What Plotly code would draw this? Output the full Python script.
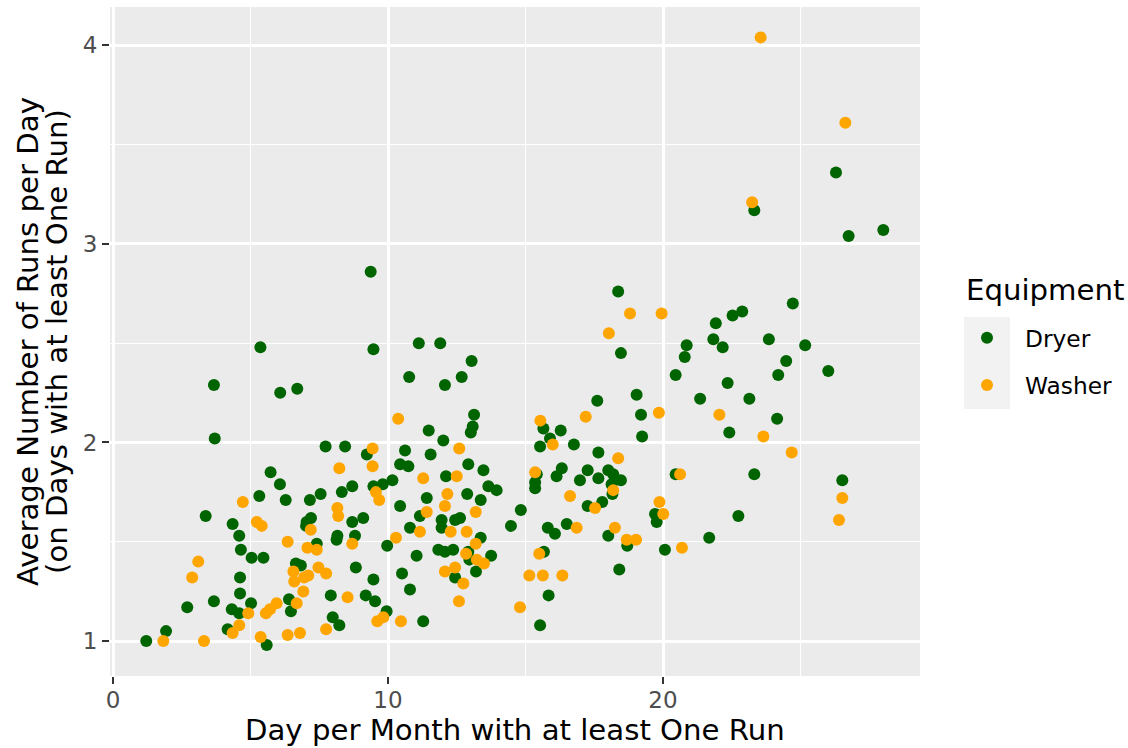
import plotly.graph_objects as go

# ---- data ----
dryer_days = [
    1.21, 1.93, 2.70, 3.37, 3.67, 3.70, 3.67, 4.17, 4.32, 4.59,
    4.35, 4.59, 4.65, 4.62, 4.62, 5.04, 5.47, 5.02, 5.36, 5.32,
    5.59, 5.73, 6.07, 6.28, 6.08, 6.70, 6.40, 6.47, 6.65, 6.83,
    7.04, 7.20, 7.02, 7.16, 7.55, 7.41, 7.73, 8.44, 7.92, 7.99,
    8.23, 8.32, 8.70, 8.16, 8.13, 8.70, 9.10, 8.80, 8.83, 9.23,
    9.47, 9.47, 9.19, 9.53, 9.37, 9.47, 9.81, 10.16, 9.97, 9.95,
    10.62, 10.44, 10.74, 10.44, 10.51, 10.80, 10.77, 11.12, 11.90, 10.80,
    11.04, 11.28, 11.16, 11.41, 11.48, 11.55, 12.01, 12.07, 12.11, 11.95,
    11.95, 11.83, 12.07, 12.37, 12.44, 12.62, 12.44, 12.68, 13.04, 13.13,
    13.08, 13.01, 12.92, 12.88, 13.37, 13.47, 13.65, 13.95, 13.37, 12.92,
    12.96, 13.75, 13.20, 14.47, 14.83, 15.41, 15.35, 15.35, 15.53, 15.89, 15.65,
    16.28, 16.76, 15.67, 15.81, 16.07, 16.50, 15.84, 15.53, 16.32, 16.13,
    16.98, 17.26, 17.65, 17.65, 17.61, 17.26, 17.79, 18.01, 18.19, 18.47,
    18.13, 18.16, 18.01, 18.41, 18.70, 18.37, 18.47, 19.04, 19.20, 19.24,
    19.71, 19.77, 20.07, 20.46, 20.46, 20.79, 20.86, 21.35, 21.68, 21.83,
    21.92, 22.17, 22.35, 22.41, 22.53, 22.88, 22.74, 23.14, 23.32, 23.32,
    23.85, 24.15, 24.19, 24.48, 24.72, 25.17, 26.01, 26.29, 26.52, 26.75, 28.01,
]
dryer_runs = [
    1.00, 1.05, 1.17, 1.63, 2.29, 2.02, 1.20, 1.06, 1.16, 1.14,
    1.59, 1.53, 1.46, 1.32, 1.24, 1.42, 1.42, 1.19, 2.48, 1.73,
    0.98, 1.85, 1.79, 1.71, 2.25, 2.27, 1.21, 1.15, 1.39, 1.38,
    1.60, 1.62, 1.58, 1.71, 1.74, 1.49, 1.98, 1.98, 1.23, 1.12,
    1.08, 1.75, 1.78, 1.53, 1.51, 1.60, 1.62, 1.53, 1.37, 1.94,
    1.78, 1.31, 1.23, 1.20, 2.86, 2.47, 1.79, 1.81, 1.48, 1.15,
    1.96, 1.89, 1.88, 1.68, 1.34, 1.26, 2.33, 2.50, 2.50, 1.57,
    1.43, 1.10, 1.63, 1.72, 2.06, 1.94, 2.01, 2.29, 1.83, 1.61,
    1.57, 1.46, 1.45, 1.46, 1.61, 1.62, 1.32, 2.33, 2.41, 2.14,
    2.08, 2.05, 1.89, 1.74, 1.71, 1.86, 1.78, 1.76, 1.52, 1.45,
    1.41, 1.43, 1.35, 1.58, 1.66, 1.84, 1.80, 1.77, 1.98, 2.02, 2.07,
    2.06, 1.99, 1.45, 1.57, 1.54, 1.59, 1.23, 1.08, 1.87, 1.83,
    1.81, 1.86, 1.82, 1.95, 2.21, 1.68, 1.70, 1.86, 1.84, 1.81,
    1.79, 1.74, 1.53, 1.36, 1.48, 2.76, 2.45, 2.24, 2.14, 2.03,
    1.64, 1.60, 1.46, 1.84, 2.34, 2.43, 2.49, 2.22, 1.52, 2.52,
    2.60, 2.48, 2.30, 2.05, 2.64, 2.66, 1.63, 2.22, 1.84, 3.17,
    2.52, 2.12, 2.34, 2.41, 2.70, 2.49, 2.36, 3.36, 1.81, 3.04, 3.07,
]
washer_days = [
    1.83, 2.88, 3.10, 3.31, 4.35, 4.59, 4.72, 4.92, 5.23, 5.41,
    5.37, 5.56, 5.71, 5.95, 6.35, 6.35, 6.80, 6.56, 6.59, 6.68,
    6.92, 6.95, 7.10, 7.07, 7.41, 7.19, 7.47, 7.75, 7.75, 8.16,
    8.19, 8.23, 8.53, 8.70, 9.44, 9.44, 9.56, 9.68, 9.61, 9.83,
    10.29, 10.37, 10.47, 11.28, 11.41, 11.16, 12.07, 12.16, 12.28, 12.07,
    12.44, 12.50, 12.59, 12.58, 12.74, 12.86, 12.84, 13.19, 13.19, 13.23,
    13.49, 14.80, 15.14, 15.35, 15.50, 15.54, 15.63, 15.99, 16.34, 16.62,
    16.86, 17.19, 17.53, 18.19, 18.03, 18.25, 18.37, 18.68, 19.02, 18.80,
    19.95, 19.85, 19.87, 20.01, 20.62, 20.69, 22.05, 23.24, 23.55, 23.65,
    24.68, 26.40, 26.52, 26.63,
]
washer_runs = [
    1.00, 1.32, 1.40, 1.00, 1.04, 1.08, 1.70, 1.14, 1.60, 1.58,
    1.02, 1.14, 1.16, 1.19, 1.50, 1.03, 1.04, 1.35, 1.30, 1.19,
    1.25, 1.32, 1.33, 1.47, 1.46, 1.56, 1.37, 1.34, 1.06, 1.67,
    1.63, 1.87, 1.22, 1.49, 1.97, 1.88, 1.75, 1.71, 1.10, 1.12,
    1.52, 2.12, 1.10, 1.82, 1.65, 1.55, 1.68, 1.74, 1.55, 1.35,
    1.37, 1.83, 1.97, 1.20, 1.29, 1.55, 1.44, 1.65, 1.49, 1.41,
    1.39, 1.17, 1.33, 1.85, 1.44, 2.11, 1.33, 1.99, 1.33, 1.73,
    1.57, 2.13, 1.67, 1.76, 2.55, 1.57, 1.92, 1.51, 1.51, 2.65,
    2.65, 2.15, 1.70, 1.64, 1.84, 1.47, 2.14, 3.21, 4.04, 2.03,
    1.95, 1.61, 1.72, 3.61,
]
x_ticks = [0, 10, 20]
y_ticks = [1, 2, 3, 4]
x_title = "Day per Month with at least One Run"
y_title_1 = "Average Number of Runs per Day"
y_title_2 = "(on Days with at least One Run)"
legend_title = "Equipment"

assert len(dryer_days) == len(dryer_runs)
assert len(washer_days) == len(washer_runs)

# ---- layout geometry (pixels) ----
W, H = 1128, 748
L, R, T, B = 110, 920, 7, 676   # panel edges
pw, ph = R - L, B - T


def px_x(p):
    return (p - L) / pw


def px_y(p):
    return (B - p) / ph


FONT = "DejaVu Sans"
TITLE_SIZE = 29.2
fig = go.Figure()
fig.add_trace(go.Scatter(
    x=dryer_days, y=dryer_runs, mode="markers", name="Dryer",
    legendgroup="d",
    marker=dict(color="#006400", size=12, line=dict(width=0)),
))
fig.add_trace(go.Scatter(
    x=washer_days, y=washer_runs, mode="markers", name="Washer",
    legendgroup="w",
    marker=dict(color="#FFA500", size=12, line=dict(width=0)),
))

axis_common = dict(
    ticks="outside", ticklen=7, tickwidth=2, tickcolor="#333333",
    tickfont=dict(family=FONT, size=23, color="#4D4D4D"),
    showgrid=True, gridcolor="white", gridwidth=2.5,
    zeroline=False, showline=False, fixedrange=True,
)
fig.update_xaxes(
    range=[-0.109, 29.345], tickvals=x_ticks, ticktext=[str(v) for v in x_ticks],
    minor=dict(tickvals=[5, 15, 25], showgrid=True, gridcolor="white", gridwidth=1.2, ticks=""),
    ticklabelstandoff=-4,
    **axis_common,
)
fig.update_yaxes(
    range=[0.824, 4.193], tickvals=y_ticks, ticktext=[str(v) for v in y_ticks],
    minor=dict(tickvals=[1.5, 2.5, 3.5], showgrid=True, gridcolor="white", gridwidth=1.2, ticks=""),
    **axis_common,
)

fig.update_layout(
    width=W, height=H,
    margin=dict(l=L, r=W - R, t=T, b=H - B, autoexpand=False),
    paper_bgcolor="white", plot_bgcolor="#EBEBEB",
    font=dict(family=FONT, color="black"),
    showlegend=True,
    legend=dict(
        font=dict(family=FONT, size=23.3, color="black"),
        x=px_x(949), y=px_y(316), xanchor="left", yanchor="top",
        bgcolor="rgba(0,0,0,0)", traceorder="grouped", tracegroupgap=14,
        itemsizing="constant", itemwidth=66,
    ),
    shapes=[dict(
        type="rect", xref="paper", yref="paper",
        x0=px_x(964), x1=px_x(1010), y0=px_y(409), y1=px_y(317),
        fillcolor="#F2F2F2", line=dict(width=0), layer="below",
    )],
    annotations=[
        dict(text=x_title, xref="paper", yref="paper", x=0.5, y=px_y(730),
             xanchor="center", yanchor="middle", showarrow=False,
             font=dict(family=FONT, size=TITLE_SIZE, color="black")),
        dict(text=y_title_1, xref="paper", yref="paper", x=px_x(28), y=px_y(342),
             xanchor="center", yanchor="middle", textangle=-90, showarrow=False,
             font=dict(family=FONT, size=TITLE_SIZE, color="black")),
        dict(text=y_title_2, xref="paper", yref="paper", x=px_x(57), y=px_y(342),
             xanchor="center", yanchor="middle", textangle=-90, showarrow=False,
             font=dict(family=FONT, size=TITLE_SIZE, color="black")),
        dict(text=legend_title, xref="paper", yref="paper", x=px_x(964), y=px_y(290),
             xanchor="left", yanchor="middle", showarrow=False,
             font=dict(family=FONT, size=TITLE_SIZE, color="black")),
    ],
)

fig.write_html("out.html")
